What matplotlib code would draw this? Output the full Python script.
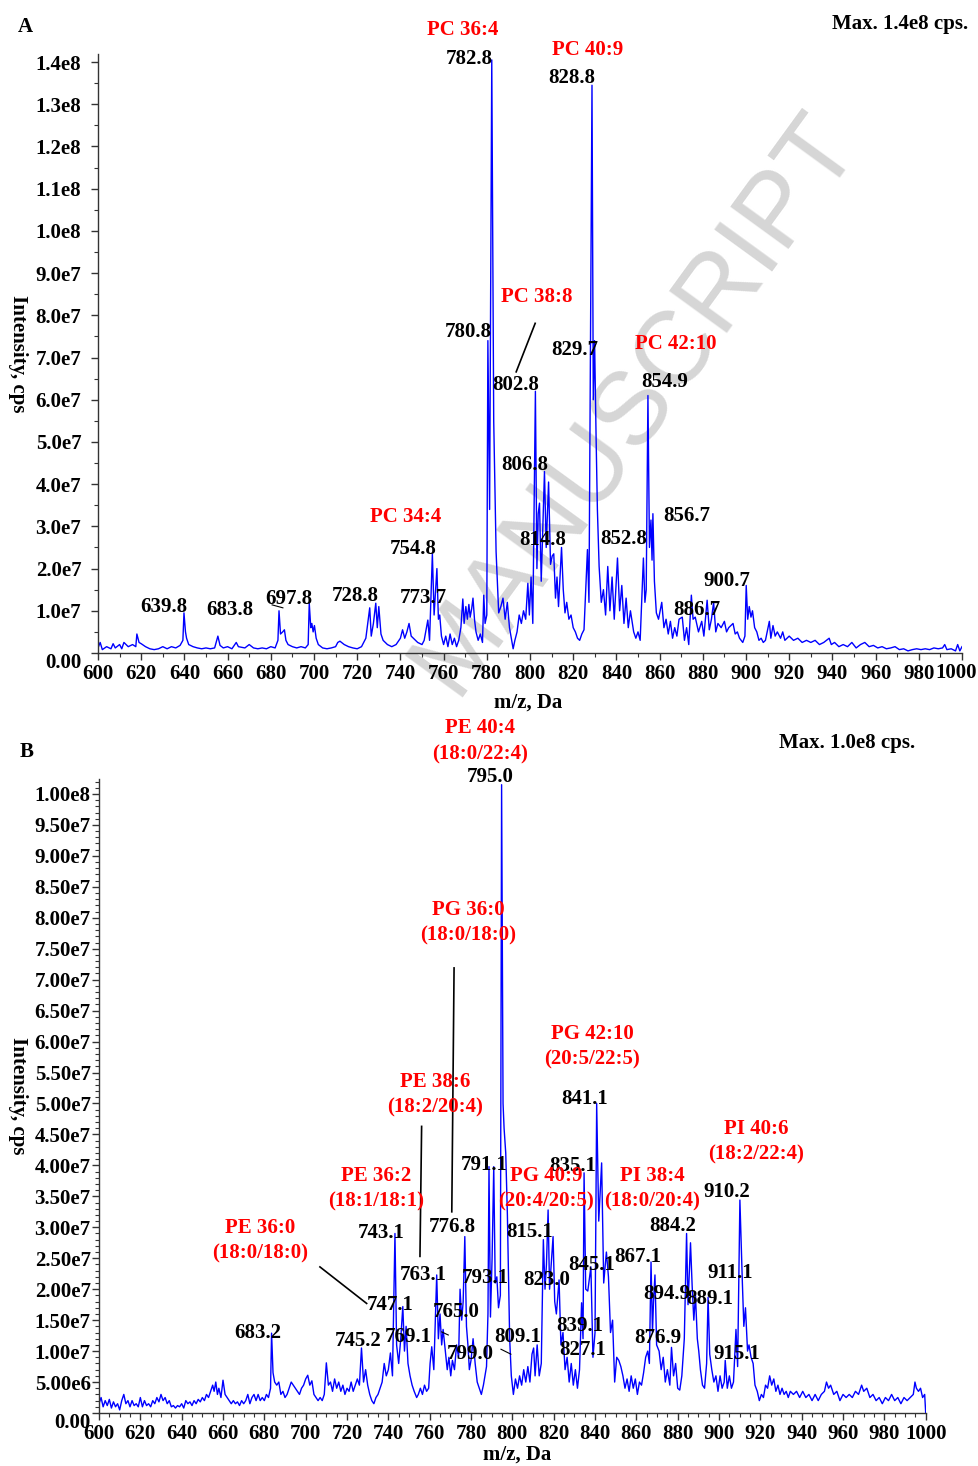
import numpy as np
import matplotlib
matplotlib.use("Agg")
import matplotlib.pyplot as plt
from matplotlib.ticker import FixedLocator, FixedFormatter, MultipleLocator

plt.rcParams['font.family'] = ['Liberation Serif', 'DejaVu Serif']
plt.rcParams['font.weight'] = 'bold'

# ---- panel A spectrum (m/z, intensity in 1e7 cps) ----
mz_a = [600, 601, 602, 604, 606, 607, 608, 610, 611, 612, 614, 616, 617.5, 618, 619, 620, 622, 624, 626, 628, 630, 632, 634, 636, 638, 639.3, 639.8, 640.5, 641, 642,
        644, 646, 648, 650, 652, 654, 655.5, 656.5, 658, 660, 662, 664, 665, 668, 670, 672, 674, 676, 678, 680, 682, 683.3, 683.8, 684.5, 685.5, 686.3, 687, 688, 690, 692,
        694, 696, 697.3, 697.8, 698.5, 699, 699.6, 700.2, 701, 702, 704, 706, 708, 710, 711, 712, 714, 716, 718, 720, 722, 724, 725.8, 726.5, 727.5, 728.6, 729.3, 730, 731, 732,
        734, 736, 738, 740, 741, 742, 743, 744, 745, 746, 748, 750, 751, 752.7, 753.5, 754.8, 755.6, 756.9, 757.6, 758.2, 759, 760, 761, 762, 763, 764, 765, 766, 767, 768,
        768.9, 769.5, 770.3, 771, 771.7, 772.3, 773, 773.6, 774.3, 775, 776, 777, 778, 778.6, 779.2, 780, 780.5, 781.3, 782.3, 783.2, 784.3, 785.5, 786.5, 787.5, 788.5, 789.5, 790.5, 791.5, 792.2, 793,
        794, 795, 796, 797, 798, 799, 799.7, 800.5, 801.3, 802.5, 803.2, 803.8, 804.4, 805.2, 806.7, 807.5, 808.6, 809.5, 810.3, 811, 811.8, 812.5, 813.2, 814.6, 815.4, 816.2, 817, 818, 819, 820,
        821, 822, 823, 824, 825, 826.6, 827.3, 828.7, 829.3, 829.9, 830.6, 831.2, 832, 833, 834, 835, 836, 837, 838, 839, 840.5, 841.5, 842.5, 843.5, 844.5, 845.5, 846.5, 848, 849, 850,
        851, 852.5, 853.2, 853.8, 854.6, 855.3, 856, 856.5, 856.9, 857.6, 858.5, 859.5, 861, 862, 863, 864, 865, 866, 867, 868, 869, 870.5, 871.5, 872.5, 873.5, 874.7, 875.5, 876.5, 878, 879.5,
        880.5, 882, 883, 884, 885, 886, 887, 888.5, 890, 891, 892, 894, 895, 896, 897, 898.5, 899.5, 900.1, 900.8, 901.5, 902.3, 903, 904, 905, 906, 907, 908, 909, 910.8, 911.5,
        912.5, 913.5, 914.5, 916, 917, 918, 920, 922, 924, 926, 928, 930, 932, 934, 936, 938.5, 939.5, 941, 943, 945, 947, 949, 951, 953, 955, 957, 959, 961, 963, 965,
        967, 969, 971, 973, 975, 977, 979, 981, 983, 985, 987, 989, 991, 992, 993, 995, 997, 998, 999, 1000]
int_a = [0.12, 0.25, 0.08, 0.15, 0.10, 0.22, 0.12, 0.20, 0.10, 0.25, 0.15, 0.20, 0.15, 0.45, 0.25, 0.22, 0.15, 0.10, 0.08, 0.10, 0.15, 0.10, 0.15, 0.12, 0.18, 0.30, 0.95, 0.50, 0.35, 0.20,
         0.15, 0.12, 0.10, 0.12, 0.10, 0.12, 0.40, 0.18, 0.12, 0.15, 0.10, 0.25, 0.15, 0.12, 0.20, 0.12, 0.10, 0.12, 0.10, 0.15, 0.12, 0.30, 1.00, 0.45, 0.50, 0.55, 0.30, 0.20, 0.15, 0.12,
         0.15, 0.12, 0.20, 1.18, 0.60, 0.70, 0.50, 0.65, 0.35, 0.20, 0.12, 0.10, 0.12, 0.15, 0.25, 0.28, 0.20, 0.15, 0.12, 0.10, 0.15, 0.35, 1.07, 0.40, 0.70, 1.18, 0.60, 1.10, 0.45, 0.30,
         0.20, 0.15, 0.20, 0.35, 0.55, 0.35, 0.50, 0.70, 0.40, 0.35, 0.25, 0.20, 0.30, 0.78, 0.30, 2.35, 0.90, 2.00, 0.80, 0.90, 0.40, 0.20, 0.40, 0.15, 0.45, 0.20, 0.35, 0.15, 0.30, 0.60,
         1.28, 0.70, 1.10, 0.80, 1.15, 0.85, 1.05, 1.30, 0.80, 0.50, 0.30, 0.45, 0.25, 1.37, 0.70, 0.90, 7.40, 3.40, 14.05, 5.50, 2.40, 0.95, 1.10, 1.30, 0.80, 1.20, 0.60, 0.30, 0.10, 0.30,
         0.50, 0.90, 0.70, 1.00, 0.80, 1.65, 0.90, 1.80, 0.70, 6.20, 2.00, 3.30, 3.55, 1.70, 4.30, 2.50, 4.05, 2.10, 2.30, 2.35, 1.30, 1.80, 1.10, 2.50, 1.50, 0.95, 1.20, 0.80, 0.90, 0.60,
         0.50, 0.35, 0.30, 0.45, 0.55, 2.45, 1.20, 13.45, 6.00, 7.40, 5.10, 3.40, 2.05, 1.20, 1.50, 0.90, 2.05, 1.00, 1.80, 0.80, 2.25, 1.00, 1.60, 0.70, 1.30, 0.60, 1.00, 0.50, 0.35, 0.50,
         0.30, 2.25, 1.20, 1.50, 6.10, 2.50, 3.15, 2.20, 3.30, 1.70, 0.95, 0.80, 1.20, 0.60, 0.80, 0.45, 0.75, 0.35, 0.60, 0.40, 0.80, 0.85, 0.30, 0.60, 0.20, 1.37, 0.80, 0.85, 0.50, 0.75,
         0.40, 1.25, 0.55, 0.80, 1.20, 0.50, 0.70, 0.60, 0.75, 0.50, 0.60, 0.70, 0.45, 0.50, 0.35, 0.25, 0.40, 1.60, 0.80, 1.10, 0.85, 1.00, 0.60, 0.50, 0.30, 0.35, 0.25, 0.30, 0.75, 0.35,
         0.65, 0.40, 0.50, 0.35, 0.50, 0.30, 0.40, 0.30, 0.35, 0.25, 0.30, 0.25, 0.30, 0.20, 0.25, 0.35, 0.20, 0.25, 0.15, 0.20, 0.15, 0.25, 0.12, 0.20, 0.25, 0.15, 0.18, 0.12, 0.15, 0.10,
         0.12, 0.15, 0.08, 0.10, 0.05, 0.08, 0.10, 0.08, 0.10, 0.08, 0.12, 0.10, 0.12, 0.20, 0.08, 0.10, 0.05, 0.20, 0.05, 0.15]

# ---- panel B spectrum ----
mz_b = [600, 601, 602, 603, 604, 605, 606, 607, 608, 609, 610, 611, 612, 613, 614, 615, 616, 617, 618, 619, 620, 621, 622, 623, 624, 625, 626, 627, 628, 629,
        630, 631, 632, 633, 634, 635, 636, 637, 638, 639, 640, 641, 642, 643, 644, 645, 646, 647, 648, 649, 650, 651, 652, 653, 654, 655, 655.7, 656.5, 657.3, 658,
        659, 660, 661, 662, 663, 664, 665, 666, 667, 668, 669, 670, 671, 672, 673, 674, 675, 676, 677, 678, 679, 680, 681, 682, 683, 683.5, 684.2, 685, 686, 687,
        688, 689, 690, 691, 692, 693, 694, 695, 696, 697, 698, 699, 700, 701, 702, 703, 704, 705, 706, 707, 708, 709, 710, 711, 712, 713, 714, 715, 716, 717,
        718, 719, 720, 721, 722, 723, 724, 725, 726, 727, 728, 729, 730, 731, 732, 733, 734, 735, 736, 737, 738, 739, 740, 741, 742, 743.2, 744, 745, 746, 747,
        747.8, 748.6, 749.5, 750.5, 751.5, 752.5, 753.7, 754.5, 755.5, 756.5, 757.5, 758.5, 759.5, 760.2, 761, 762, 763.4, 764.2, 765, 765.8, 766.5, 767.6, 768.5, 769.3, 770.2, 771, 772, 773, 774, 774.7,
        775.5, 776.2, 777, 777.8, 778.5, 779.2, 780, 781, 782, 783, 784, 785, 786, 787.5, 788.2, 788.7, 789.4, 790.2, 791, 791.7, 792.5, 793.3, 794.2, 794.8, 795.5, 796, 796.8, 797.6, 798.7, 799.5,
        800.5, 801.5, 802.5, 803.5, 804.5, 805.5, 806.5, 807.5, 808.5, 809.5, 810.3, 811, 812, 813, 814, 815, 815.8, 816.5, 817.3, 818, 818.8, 819.7, 820.5, 821.3, 822.6, 823.5, 824.5, 825.5, 826.5, 827.5,
        828.5, 829.5, 830.5, 831.5, 832.5, 833.5, 834.2, 834.7, 835.5, 836.5, 838, 839, 840, 840.8, 841.8, 843.2, 844.2, 845.5, 846.5, 847.5, 848.5, 849.5, 850.5, 851.5, 852.5, 853.5, 854.5, 855.5, 856.5, 857.5,
        858.5, 859.5, 860.5, 861.5, 862.5, 863.5, 864.5, 865.5, 866.3, 867.1, 867.8, 868.3, 869, 869.8, 871, 872, 873, 874, 875, 876.2, 877, 878, 879, 880, 881, 882, 883.2, 884.3, 885, 886.2,
        887, 887.8, 888.6, 889.5, 890.2, 891, 892, 893, 894, 894.7, 895.5, 896.5, 897.5, 898.5, 899.5, 900.5, 901.5, 902.5, 903, 904, 905, 906, 907, 908.2, 909, 910.1, 911.3, 912, 912.8, 913.8,
        914.5, 915.5, 916.5, 917.4, 918.5, 919.5, 920.5, 921.5, 922.5, 923.5, 924.5, 925.5, 926.5, 927.5, 928.5, 929.5, 930.5, 931.5, 932.5, 933.5, 934.5, 936, 937.5, 939, 940.5, 942, 943.5, 945, 946.5, 948,
        949.5, 951, 952, 953, 954, 955.5, 957, 958.5, 960, 961.5, 963, 964.5, 966, 967.5, 969, 970, 971.5, 973, 974.5, 976, 977.5, 979, 980.5, 982, 983.5, 985, 986.5, 988, 989.5, 991,
        992.5, 994, 994.8, 995.5, 996.5, 997.5, 998.5, 999.5, 1000]
int_b = [0.15, 0.25, 0.10, 0.20, 0.12, 0.22, 0.08, 0.18, 0.10, 0.15, 0.05, 0.20, 0.30, 0.15, 0.20, 0.10, 0.20, 0.12, 0.15, 0.10, 0.25, 0.10, 0.20, 0.12, 0.15, 0.10, 0.20, 0.15, 0.25, 0.18,
         0.30, 0.20, 0.25, 0.15, 0.20, 0.10, 0.12, 0.08, 0.12, 0.10, 0.15, 0.08, 0.20, 0.15, 0.18, 0.12, 0.20, 0.15, 0.22, 0.18, 0.25, 0.20, 0.30, 0.25, 0.35, 0.45, 0.35, 0.50, 0.30, 0.40,
         0.25, 0.53, 0.30, 0.25, 0.20, 0.15, 0.20, 0.15, 0.18, 0.12, 0.20, 0.15, 0.20, 0.30, 0.15, 0.25, 0.30, 0.20, 0.30, 0.20, 0.25, 0.20, 0.30, 0.25, 0.40, 1.29, 0.65, 0.50, 0.45, 0.50,
         0.30, 0.35, 0.25, 0.30, 0.40, 0.50, 0.45, 0.40, 0.35, 0.30, 0.40, 0.45, 0.55, 0.61, 0.45, 0.52, 0.30, 0.25, 0.20, 0.25, 0.20, 0.30, 0.81, 0.45, 0.50, 0.35, 0.55, 0.40, 0.50, 0.35,
         0.45, 0.30, 0.40, 0.35, 0.50, 0.35, 0.45, 0.55, 0.45, 1.05, 0.50, 0.70, 0.45, 0.30, 0.20, 0.15, 0.25, 0.30, 0.40, 0.50, 0.80, 0.60, 0.70, 0.97, 0.60, 2.90, 1.10, 0.80, 1.20, 1.72,
         1.00, 1.40, 0.80, 0.60, 0.45, 0.35, 0.25, 0.30, 0.40, 0.30, 0.45, 0.35, 0.40, 0.80, 1.07, 0.70, 2.23, 1.20, 1.60, 1.10, 1.35, 1.00, 0.70, 0.90, 0.60, 0.85, 0.70, 1.10, 0.90, 2.00,
         1.50, 1.80, 2.85, 1.40, 1.10, 0.70, 0.85, 1.20, 0.80, 0.50, 0.40, 0.30, 0.45, 0.75, 1.60, 3.98, 1.55, 2.50, 3.98, 2.10, 2.20, 1.70, 1.90, 10.15, 5.00, 4.60, 4.20, 3.20, 1.20, 0.60,
         0.30, 0.55, 0.40, 0.60, 0.45, 0.70, 0.50, 0.75, 0.50, 0.95, 1.05, 0.60, 1.10, 0.60, 0.80, 2.80, 2.00, 2.40, 3.28, 2.00, 2.40, 2.85, 1.80, 1.60, 2.15, 1.10, 1.30, 0.70, 0.90, 0.50,
         0.80, 0.45, 0.70, 0.40, 0.70, 1.78, 1.20, 3.88, 2.00, 1.97, 2.36, 0.90, 1.30, 5.00, 3.10, 4.04, 2.10, 2.60, 2.20, 1.30, 1.50, 0.50, 0.90, 0.85, 0.75, 0.60, 0.40, 0.55, 0.35, 0.60,
         0.40, 0.55, 0.30, 0.50, 0.45, 0.65, 0.90, 1.00, 0.80, 2.44, 1.30, 1.80, 2.23, 1.10, 1.00, 0.70, 0.90, 0.50, 0.70, 0.45, 1.06, 0.60, 0.80, 0.40, 0.37, 0.60, 1.20, 2.90, 1.75, 2.75,
         2.05, 1.50, 1.90, 1.20, 1.00, 0.70, 0.45, 0.40, 0.80, 1.87, 0.95, 0.70, 0.50, 0.60, 0.35, 0.60, 0.40, 0.50, 0.85, 0.40, 0.60, 0.40, 0.50, 1.35, 0.75, 3.44, 2.10, 1.40, 1.70, 1.00,
         1.10, 0.90, 0.80, 0.45, 0.35, 0.20, 0.30, 0.25, 0.45, 0.40, 0.60, 0.45, 0.55, 0.35, 0.45, 0.30, 0.40, 0.30, 0.35, 0.25, 0.35, 0.30, 0.35, 0.25, 0.35, 0.25, 0.30, 0.20, 0.30, 0.20,
         0.30, 0.35, 0.50, 0.40, 0.45, 0.30, 0.35, 0.20, 0.30, 0.25, 0.30, 0.25, 0.35, 0.30, 0.45, 0.35, 0.40, 0.25, 0.30, 0.20, 0.25, 0.15, 0.25, 0.20, 0.30, 0.20, 0.25, 0.15, 0.25, 0.20,
         0.25, 0.30, 0.50, 0.40, 0.35, 0.40, 0.25, 0.30, 0.00]

assert len(mz_a) == len(int_a) and len(mz_b) == len(int_b)

# ---- peak labels (text, m/z, intensity 1e7) ----
mass_a = ["782.8", "828.8", "780.8", "829.7", "802.8", "854.9", "806.8", "856.7", "814.8", "852.8",
          "754.8", "900.7", "639.8", "683.8", "697.8", "728.8", "773.7", "886.7"]
mass_a_x = [772.1, 819.2, 771.6, 820.6, 793.3, 862.2, 797.5, 872.4, 805.8, 843.2,
            745.7, 891.3, 630.5, 661.0, 688.3, 719.3, 750.8, 877.0]
mass_a_y = [14.08, 13.63, 7.61, 7.18, 6.35, 6.42, 4.45, 3.25, 2.68, 2.70,
            2.46, 1.71, 1.09, 1.02, 1.28, 1.35, 1.30, 1.02]
lipid_a = ["PC 36:4", "PC 40:9", "PC 38:8", "PC 42:10", "PC 34:4"]
lipid_a_x = [768.8, 826.6, 803.0, 867.3, 742.4]
lipid_a_y = [14.76, 14.29, 8.44, 7.32, 3.22]

mass_b = ["795.0", "841.1", "791.1", "835.1", "910.2", "884.2", "743.1", "776.8", "815.1", "867.1",
          "845.1", "763.1", "793.1", "823.0", "911.1", "894.9", "889.1", "747.1", "765.0", "839.1",
          "683.2", "745.2", "769.1", "809.1", "827.1", "876.9", "799.0", "915.1"]
mass_b_x = [789.2, 835.1, 786.3, 829.3, 903.9, 877.7, 736.4, 770.8, 808.5, 860.8,
            838.5, 756.8, 786.8, 816.8, 905.3, 874.8, 895.6, 740.8, 772.7, 832.7,
            676.9, 725.3, 749.5, 802.7, 834.2, 870.5, 779.5, 908.7]
mass_b_y = [10.27, 5.07, 4.01, 3.99, 3.57, 3.02, 2.91, 3.00, 2.92, 2.52,
            2.39, 2.23, 2.18, 2.15, 2.26, 1.92, 1.84, 1.74, 1.63, 1.41,
            1.29, 1.16, 1.23, 1.23, 1.02, 1.21, 0.95, 0.95]
lipid_b = ["PE 40:4\n(18:0/22:4)", "PG 36:0\n(18:0/18:0)", "PG 42:10\n(20:5/22:5)", "PE 38:6\n(18:2/20:4)",
           "PI 40:6\n(18:2/22:4)", "PE 36:2\n(18:1/18:1)", "PG 40:9\n(20:4/20:5)", "PI 38:4\n(18:0/20:4)",
           "PE 36:0\n(18:0/18:0)"]
lipid_b_x = [784.3, 778.5, 838.5, 762.6, 917.9, 734.0, 816.3, 867.6, 677.9]
lipid_b_y = [10.85, 7.92, 5.92, 5.14, 4.38, 3.62, 3.62, 3.62, 2.78]

yticks_a = ["0.00", "1.0e7", "2.0e7", "3.0e7", "4.0e7", "5.0e7", "6.0e7", "7.0e7",
            "8.0e7", "9.0e7", "1.0e8", "1.1e8", "1.2e8", "1.3e8", "1.4e8"]
yticks_b = ["0.00", "5.00e6", "1.00e7", "1.50e7", "2.00e7", "2.50e7", "3.00e7", "3.50e7",
            "4.00e7", "4.50e7", "5.00e7", "5.50e7", "6.00e7", "6.50e7", "7.00e7", "7.50e7",
            "8.00e7", "8.50e7", "9.00e7", "9.50e7", "1.00e8"]
xticks_a = ["600", "620", "640", "660", "680", "700", "720", "740", "760", "780", "800",
            "820", "840", "860", "880", "900", "920", "940", "960", "980", ""]
xticks_b = ["600", "620", "640", "660", "680", "700", "720", "740", "760", "780", "800",
            "820", "840", "860", "880", "900", "920", "940", "960", "980", "1000"]

W, H = 979, 1466
fig = plt.figure(figsize=(W / 100, H / 100), dpi=100)

# watermark behind the spectra
fig.text(636 / W, 1 - 403 / H, "MANUSCRIPT", rotation=54, color='#d6d6d6',
         fontsize=75, family='Liberation Sans', fontweight='normal',
         ha='center', va='center', zorder=-1)

axA = fig.add_axes([98 / W, 1 - 653 / H, 864 / W, 599 / H])
axB = fig.add_axes([99 / W, 1 - 1413 / H, 826.7 / W, 634.5 / H])

blue = '#0000ff'
axA.plot(mz_a, np.array(int_a) * 1e7, color=blue, lw=1.0)
axB.plot(mz_b, np.array(int_b) * 1e7, color=blue, lw=1.0)

axA.set_ylim(0, 1.419e8)
axB.set_ylim(0, 1.025e8)

for ax, yl, xl, step, yminor, xminor, pad in [(axA, yticks_a, xticks_a, 1e7, 5e6, 10, 7),
                                               (axB, yticks_b, xticks_b, 5e6, 1e6, 5, 1)]:
    ax.set_xlim(600, 1000)
    ax.patch.set_alpha(0)
    ax.spines['top'].set_visible(False)
    ax.spines['right'].set_visible(False)
    for s in ['left', 'bottom']:
        ax.spines[s].set_linewidth(1.0)
        ax.spines[s].set_color('#333333')
    ax.xaxis.set_major_locator(FixedLocator(600 + 20 * np.arange(len(xl))))
    ax.xaxis.set_major_formatter(FixedFormatter(xl))
    ax.xaxis.set_minor_locator(MultipleLocator(xminor))
    ax.yaxis.set_major_locator(FixedLocator(np.arange(len(yl)) * step))
    ax.yaxis.set_major_formatter(FixedFormatter(yl))
    ax.yaxis.set_minor_locator(MultipleLocator(yminor))
    ax.tick_params(axis='both', which='major', direction='out', length=5, width=1,
                   labelsize=15, colors='#333333', labelcolor='black')
    ax.tick_params(axis='both', which='minor', direction='out', length=3, width=0.8,
                   colors='#333333')
    ax.tick_params(axis='x', which='major', pad=3)
    ax.tick_params(axis='y', which='major', pad=pad)
    for lab in ax.get_xticklabels() + ax.get_yticklabels():
        lab.set_fontweight('bold')
    # the zero label hangs below the axis, as in the original
    ax.yaxis.get_major_ticks()[0].label1.set_verticalalignment('top')

# last x label of panel A sits just inside the page edge
fig.text(977 / W, 1 - 663 / H, "1000", ha='right', va='top', fontsize=15, fontweight='bold')

# peak labels
for t, x, y in zip(mass_a, mass_a_x, mass_a_y):
    axA.text(x, y * 1e7, t, ha='center', va='center', fontsize=15, fontweight='bold', color='black')
for t, x, y in zip(lipid_a, lipid_a_x, lipid_a_y):
    axA.text(x, y * 1e7, t, ha='center', va='center', fontsize=15, fontweight='bold', color='#ff0000')
for t, x, y in zip(mass_b, mass_b_x, mass_b_y):
    axB.text(x, y * 1e7, t, ha='center', va='center', fontsize=15, fontweight='bold', color='black')
for t, x, y in zip(lipid_b, lipid_b_x, lipid_b_y):
    axB.text(x, y * 1e7, t, ha='center', va='center', fontsize=15, fontweight='bold', color='#ff0000',
             linespacing=1.4)

# leader lines
axA.plot([802.4, 793.6], [7.81e7, 6.66e7], color='black', lw=1.2)
axA.plot([680.6, 685.6], [1.14e7, 1.07e7], color='black', lw=0.8)
axB.plot([771.8, 770.7], [7.19e7, 3.25e7], color='black', lw=1.2)
axB.plot([756.1, 755.3], [4.63e7, 2.53e7], color='black', lw=1.2)
axB.plot([706.9, 729.5], [2.36e7, 1.77e7], color='black', lw=1.2)
axB.plot([765.8, 769.0], [1.31e7, 1.26e7], color='black', lw=0.8)
axB.plot([794.5, 799.3], [1.03e7, 0.95e7], color='black', lw=0.8)

# axis titles and panel text
fig.text(18 / W, 1 - 354 / H, "Intensity, cps", rotation=-90, ha='center', va='center', fontsize=15, fontweight='bold')
fig.text(18 / W, 1 - 1096 / H, "Intensity, cps", rotation=-90, ha='center', va='center', fontsize=15, fontweight='bold')
fig.text(528 / W, 1 - 703 / H, "m/z, Da", ha='center', va='center', fontsize=15, fontweight='bold')
fig.text(517 / W, 1 - 1455 / H, "m/z, Da", ha='center', va='center', fontsize=15, fontweight='bold')
fig.text(25 / W, 1 - 27 / H, "A", ha='center', va='center', fontsize=15, fontweight='bold')
fig.text(27 / W, 1 - 752 / H, "B", ha='center', va='center', fontsize=15, fontweight='bold')
fig.text(968 / W, 1 - 24 / H, "Max. 1.4e8 cps.", ha='right', va='center', fontsize=15, fontweight='bold')
fig.text(847 / W, 1 - 743 / H, "Max. 1.0e8 cps.", ha='center', va='center', fontsize=15, fontweight='bold')

fig.savefig("out.png", dpi=100)
